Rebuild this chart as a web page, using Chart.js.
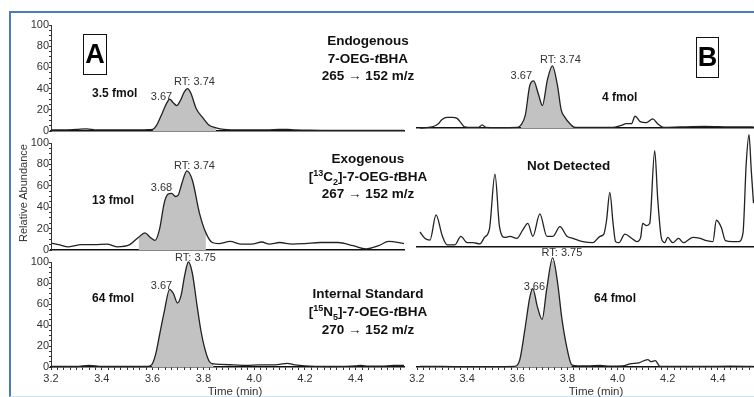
<!DOCTYPE html>
<html>
<head>
<meta charset="utf-8">
<script src="https://cdn.jsdelivr.net/npm/chart.js@4/dist/chart.umd.min.js"></script>
<style>
body { margin: 0; width: 754px; height: 397px; overflow: hidden; background: #fff; position: relative;
       font-family: "Liberation Sans", Arial, sans-serif; }
canvas { position: absolute; }
.frame { position: absolute; left: 9px; top: 11px; width: 800px; height: 383px;
         border-top: 2px solid #4a7ebb; border-left: 2px solid #4a7ebb; border-bottom: 1px solid #d3e2f3; }
.t { position: absolute; white-space: nowrap; color: #111; }
.title { width: 200px; text-align: center; font-weight: bold; font-size: 13.5px; line-height: 17.5px; }
.amt { font-weight: bold; font-size: 12px; line-height: 14px; }
.box { position: absolute; border: 1px solid #111; box-sizing: border-box; text-align: center;
       font-weight: bold; font-size: 27px; line-height: 39px; color: #000; }
.axis { font-size: 11.5px; line-height: 14px; color: #333; width: 100px; text-align: center; }
sup, sub { font-size: 9px; line-height: 0; }
</style>
</head>
<body>
<div class="frame"></div>
<script>
// ---- data (time in min, relative abundance) ----

// A: endogenous 7-OEG-tBHA, 3.5 fmol
const aEndoTime = [3.20, 3.25, 3.30, 3.34, 3.38, 3.45, 3.50, 3.55, 3.58, 3.60, 3.615, 3.64, 3.655, 3.668, 3.68, 3.695, 3.71, 3.725, 3.738, 3.75,
    3.772, 3.796, 3.82, 3.85, 3.88, 3.95, 4.00, 4.05, 4.10, 4.13, 4.16, 4.20, 4.30, 4.40, 4.50, 4.59]
const aEndoInt = [1, 1, 1.5, 2, 1, 1, 1, 1, 1.2, 1.5, 5, 18, 26, 30, 27, 24, 29, 37, 40, 36,
    21, 13, 6, 3, 1.5, 1, 1, 1, 1.5, 1.5, 1, 0.8, 0.5, 0.5, 0.5, 0.5]
const aEndoPeak = [3.60, 3.86]

// A: exogenous [13C2]-7-OEG-tBHA, 13 fmol
const aExoTime = [3.20, 3.23, 3.27, 3.32, 3.37, 3.42, 3.46, 3.51, 3.545, 3.57, 3.59, 3.61, 3.627, 3.646, 3.66, 3.675, 3.69, 3.70, 3.715, 3.735,
    3.757, 3.784, 3.81, 3.835, 3.86, 3.905, 3.95, 3.99, 4.03, 4.06, 4.10, 4.15, 4.20, 4.26, 4.33, 4.39, 4.44, 4.49, 4.53, 4.59]
const aExoInt = [6.5, 5, 3, 5, 5, 5.5, 3, 5, 12, 16, 12, 9, 19, 44, 52, 53, 50, 51, 62, 74,
    65, 35, 16, 7, 6, 8, 5.5, 5.5, 7.5, 5.5, 7, 5.5, 6, 7, 7, 4, 1, 4, 8, 6]
const aExoPeak = [3.53, 3.83]

// A: internal standard [15N5]-7-OEG-tBHA, 64 fmol
const aIsTime = [3.20, 3.30, 3.35, 3.40, 3.50, 3.58, 3.596, 3.612, 3.627, 3.647, 3.667, 3.682, 3.698, 3.712, 3.727, 3.741, 3.756, 3.776, 3.79, 3.804,
    3.824, 3.84, 3.87, 3.92, 3.97, 4.02, 4.07, 4.10, 4.13, 4.16, 4.20, 4.30, 4.40, 4.42, 4.45, 4.50, 4.55, 4.59]
const aIsInt = [0.5, 0.5, 1.5, 0.5, 0.5, 0.5, 2, 12, 30, 54, 74, 70, 61, 68, 88, 100, 90, 57, 35, 19,
    5, 3, 2.5, 2, 1.5, 2, 2, 2.5, 3.5, 2, 1, 0.5, 1, 1.5, 0.8, 0.8, 1.5, 1.5]
const aIsPeak = [3.596, 3.84]

// B: endogenous, 4 fmol
const bEndoTime = [3.212, 3.26, 3.285, 3.30, 3.32, 3.34, 3.36, 3.375, 3.39, 3.42, 3.445, 3.46, 3.475, 3.52, 3.60, 3.615, 3.632, 3.65, 3.665, 3.685,
    3.70, 3.72, 3.74, 3.76, 3.775, 3.79, 3.81, 3.83, 3.90, 3.98, 4.015, 4.035, 4.055, 4.07, 4.09, 4.115, 4.14, 4.16, 4.185, 4.25,
    4.35, 4.45, 4.542]
const bEndoInt = [0, 1, 4, 8, 10, 10, 9, 5, 1, 0.5, 0.5, 3, 0.5, 0.3, 0.5, 3, 12, 40, 44, 31,
    21, 45, 58, 40, 17, 10, 4, 0.5, 0.5, 0.5, 2.5, 4, 4, 11, 6, 5, 8.5, 4, 0.5, 1,
    1.5, 1, 1]
const bEndoPeak = [3.61, 3.83]

// B: exogenous, not detected (noise only)
const bExoTime = [3.212, 3.232, 3.252, 3.276, 3.30, 3.32, 3.351, 3.375, 3.40, 3.423, 3.451, 3.469, 3.489, 3.511, 3.529, 3.551, 3.571, 3.598, 3.622, 3.642,
    3.662, 3.69, 3.718, 3.742, 3.77, 3.798, 3.822, 3.861, 3.901, 3.93, 3.945, 3.956, 3.969, 3.982, 3.992, 4.005, 4.029, 4.057, 4.077, 4.092,
    4.10, 4.115, 4.128, 4.148, 4.16, 4.175, 4.188, 4.20, 4.22, 4.243, 4.263, 4.30, 4.33, 4.355, 4.38, 4.394, 4.414, 4.43, 4.457, 4.482,
    4.50, 4.513, 4.524, 4.533, 4.542]
const bExoInt = [14, 8, 6.5, 30, 11, 2, 2, 10, 4, 4, 3, 9, 17, 68, 19, 9, 10, 8, 16, 22,
    10, 31, 10, 10, 19, 10, 8, 5, 4, 10, 12, 25, 51, 22, 5, 4, 12, 8, 5, 9,
    22, 20, 22, 90, 45, 8, 4, 9, 4, 8, 4, 9, 8, 6, 5, 25, 18, 6, 5, 5,
    13, 78, 105, 72, 41]

// B: internal standard, 64 fmol
const bIsTime = [3.212, 3.30, 3.40, 3.50, 3.59, 3.61, 3.63, 3.65, 3.662, 3.68, 3.699, 3.717, 3.741, 3.761, 3.777, 3.797, 3.817, 3.84, 3.88, 3.93,
    3.97, 4.02, 4.05, 4.085, 4.12, 4.135, 4.15, 4.17, 4.25, 4.35, 4.45, 4.542]
const bIsInt = [0.5, 0.5, 0.3, 0.3, 0.5, 7, 35, 66, 74, 57, 45, 73, 103, 79, 47, 19, 2, 1, 1, 1.5,
    0.8, 1, 3, 4, 7, 5, 6, 0.5, 0.5, 0.5, 0.8, 0.5]
const bIsPeak = [3.59, 3.82]

// peak annotations: [time, abundance, text]
const aEndoNotes = [[3.635, 32, '3.67'], [3.765, 46, 'RT: 3.74']]
const aExoNotes = [[3.635, 58, '3.68'], [3.765, 78.5, 'RT: 3.74']]
const aIsNotes = [[3.635, 77, '3.67'], [3.769, 104, 'RT: 3.75']]
const bEndoNotes = [[3.616, 48.5, '3.67'], [3.772, 63.5, 'RT: 3.74']]
const bIsNotes = [[3.668, 75.5, '3.66'], [3.778, 107.5, 'RT: 3.75']]

// ---- drawing ----
const FONT = '"Liberation Sans", Arial, sans-serif'

const notesPlugin = (notes) => ({
    id: 'notes',
    afterDatasetsDraw(chart) {
        const ctx = chart.ctx
        ctx.save()
        ctx.font = '11px ' + FONT
        ctx.fillStyle = '#333'
        ctx.textAlign = 'center'
        ctx.textBaseline = 'middle'
        notes.forEach(n => {
            ctx.fillText(n[2], chart.scales.x.getPixelForValue(n[0]), chart.scales.y.getPixelForValue(n[1]))
        })
        ctx.restore()
    }
})

const isMajor = (v, step) => Math.abs(v / step - Math.round(v / step)) < 1e-6

// axis boxes get a fixed size and no extra label padding, so the plot area lands where we want it
const fixBox = (s, w, h) => {
    if (w !== null) s.width = w
    if (h !== null) s.height = h
    s.paddingTop = 0
    s.paddingBottom = 0
    s.paddingLeft = 0
    s.paddingRight = 0
}

const drawPanel = (p) => {
    const padTop = 16
    const padRight = 4
    const padLeft = p.yAxis ? 0 : 12
    const yW = p.yAxis ? 51 : 0
    const xH = p.xLabels ? 18 : 8
    const canvas = document.createElement('canvas')
    canvas.width = padLeft + yW + (p.right - p.left) + padRight
    canvas.height = padTop + (p.bottom - p.top) + xH
    canvas.style.left = (p.left - yW - padLeft) + 'px'
    canvas.style.top = (p.top - padTop) + 'px'
    document.body.appendChild(canvas)

    const trace = p.time.map((t, i) => ({x: t, y: p.values[i]}))
    const peak = trace.filter(d => d.x >= p.peak[0] && d.x <= p.peak[1])
    const datasets = [
        {data: trace, borderColor: '#222', borderWidth: 1.3, pointRadius: 0,
         cubicInterpolationMode: 'monotone', fill: false, clip: false}
    ]
    if (peak.length) {
        datasets.push({data: peak, borderWidth: 0, pointRadius: 0, backgroundColor: '#c2c2c2',
            cubicInterpolationMode: 'monotone', fill: 'origin', clip: false})
    }

    new Chart(canvas, {
        type: 'line',
        data: {datasets},
        options: {
            responsive: false,
            animation: false,
            events: [],
            devicePixelRatio: 1,
            layout: {padding: {top: padTop, right: padRight, left: padLeft, bottom: 0}},
            plugins: {legend: {display: false}, tooltip: {enabled: false}},
            scales: {
                x: {
                    type: 'linear', min: p.min, max: p.max,
                    afterFit: s => fixBox(s, null, xH),
                    border: {display: true, color: '#111', width: 1.5},
                    grid: {display: p.xLabels, drawOnChartArea: false, tickLength: 3, tickColor: '#333'},
                    ticks: {
                        display: p.xLabels, stepSize: 0.025, autoSkip: false, includeBounds: false,
                        maxRotation: 0, padding: 2, color: '#333', font: {size: 11, family: FONT},
                        callback: v => isMajor(v, 0.2) ? v.toFixed(1) : ''
                    }
                },
                y: {
                    display: p.yAxis, min: 0, max: 100,
                    afterFit: s => fixBox(s, yW, null),
                    border: {display: true, color: '#333', width: 1},
                    grid: {drawOnChartArea: false, tickLength: 2, tickColor: '#333'},
                    ticks: {
                        stepSize: 5, autoSkip: false, padding: 0, color: '#333', font: {size: 11, family: FONT},
                        callback: v => isMajor(v, 20) ? v : ''
                    }
                }
            }
        },
        plugins: [notesPlugin(p.notes)]
    })
}

const left = {left: 51, right: 404, min: 3.2, max: 4.59, yAxis: true}
const right = {left: 417, right: 754, min: 3.2, max: 4.544, yAxis: false}

drawPanel({...left, top: 25, bottom: 131, xLabels: false, time: aEndoTime, values: aEndoInt, peak: aEndoPeak, notes: aEndoNotes})
drawPanel({...left, top: 143, bottom: 250, xLabels: false, time: aExoTime, values: aExoInt, peak: aExoPeak, notes: aExoNotes})
drawPanel({...left, top: 262, bottom: 367, xLabels: true, time: aIsTime, values: aIsInt, peak: aIsPeak, notes: aIsNotes})
drawPanel({...right, top: 21, bottom: 128, xLabels: false, time: bEndoTime, values: bEndoInt, peak: bEndoPeak, notes: bEndoNotes})
drawPanel({...right, top: 140, bottom: 247, xLabels: false, time: bExoTime, values: bExoInt, peak: [], notes: []})
drawPanel({...right, top: 261, bottom: 367, xLabels: true, time: bIsTime, values: bIsInt, peak: bIsPeak, notes: bIsNotes})

// ---- text overlays ----
const addText = (cls, x, y, html, style = '') => {
    const d = document.createElement('div')
    d.className = cls
    d.style.cssText = `left:${x}px;top:${y}px;` + style
    d.innerHTML = html
    document.body.appendChild(d)
}

addText('t title', 268, 32, 'Endogenous<br>7-OEG-<i>t</i>BHA<br>265 &rarr; 152 m/z')
addText('t title', 268, 150, 'Exogenous<br>[<sup>13</sup>C<sub>2</sub>]-7-OEG-<i>t</i>BHA<br>267 &rarr; 152 m/z')
addText('t title', 268, 285, 'Internal Standard<br>[<sup>15</sup>N<sub>5</sub>]-7-OEG-<i>t</i>BHA<br>270 &rarr; 152 m/z', 'line-height:18px')

addText('t amt', 92, 86, '3.5 fmol')
addText('t amt', 92, 193, '13 fmol')
addText('t amt', 92, 291, '64 fmol')
addText('t amt', 602, 90, '4 fmol')
addText('t amt', 594, 291, '64 fmol')
addText('t amt', 527, 157, 'Not Detected', 'font-size:13.5px;line-height:18px')

addText('box', 83, 34, 'A', 'width:24px;height:41px')
addText('box', 696, 37, 'B', 'width:23px;height:41px')

addText('t axis', 185, 384, 'Time (min)')
addText('t axis', 546, 384, 'Time (min)')
addText('t axis', -37, 186, 'Relative Abundance', 'font-size:11px;width:120px;transform:rotate(-90deg)')
</script>
</body>
</html>
